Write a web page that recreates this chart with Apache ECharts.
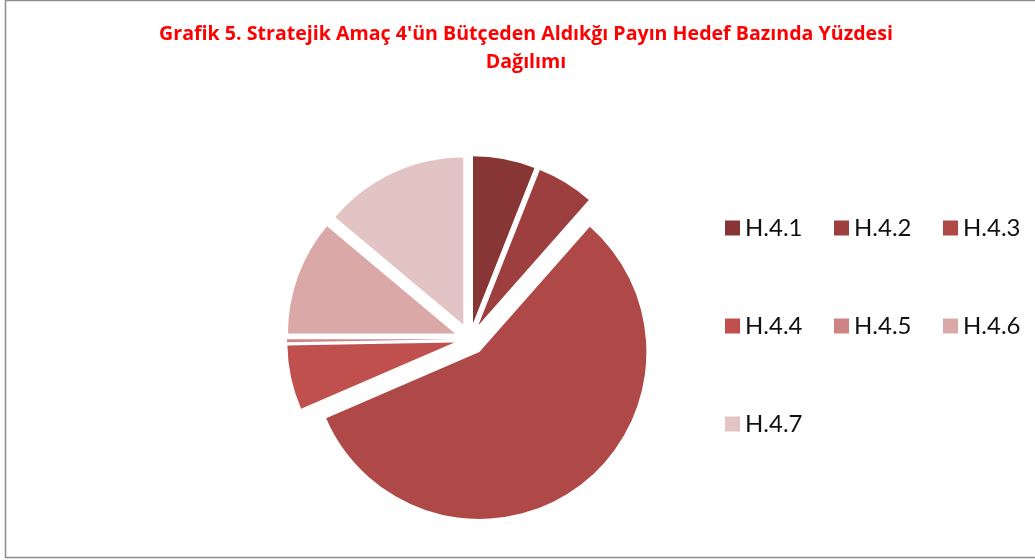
<!DOCTYPE html>
<html>
<head>
<meta charset="utf-8">
<script src="https://cdn.jsdelivr.net/npm/echarts@6/dist/echarts.min.js"></script>
<style>
  html, body { margin: 0; padding: 0; background: #fff; }
  #chart { width: 1035px; height: 560px; }
</style>
</head>
<body>
<div id="chart"></div>
<script>
// Grafik 5 - hedef bazinda pay (yuzde)
const targets = ['H.4.1', 'H.4.2', 'H.4.3', 'H.4.4', 'H.4.5', 'H.4.6', 'H.4.7'];
const shares = [6.0, 5.5, 57.0, 6.2, 0.3, 11.1, 13.9];
const sliceColors = ['#873535', '#9c3f3e', '#af4947', '#c0504d', '#ce8483', '#daa8a7', '#e3c4c4'];

// legend kolonlari (Excel gorunumu: 3 sutun)
const legendCols = [
    ['H.4.1', 'H.4.4', 'H.4.7'],
    ['H.4.2', 'H.4.5'],
    ['H.4.3', 'H.4.6']
];
const legendLeft = [725, 834, 943];

const titleText = "Grafik 5. Stratejik Amaç 4'ün Bütçeden Aldıkğı Payın Hedef Bazında Yüzdesi\nDağılımı";
const fontFam = 'Lato, "Open Sans", sans-serif';

const chart = echarts.init(document.getElementById('chart'));

const pieData = targets.map((name, i) => ({
    name,
    value: shares[i],
    selected: true,
    itemStyle: { color: sliceColors[i] }
}));

const legends = legendCols.map((col, i) => ({
    orient: 'vertical',
    left: legendLeft[i],
    top: 216,
    padding: 0,
    itemGap: 74,
    itemWidth: 15,
    itemHeight: 15,
    icon: 'rect',
    selectedMode: false,
    data: col,
    textStyle: {
        fontFamily: fontFam,
        fontSize: 24,
        lineHeight: 24,
        color: '#111'
    }
}));

chart.setOption({
    animation: false,
    legend: legends,
    graphic: [{
        type: 'rect',
        silent: true,
        shape: { x: 5.5, y: 0.5, width: 1040, height: 557 },
        style: { fill: 'none', stroke: '#8c8c8c', lineWidth: 1.5 }
    }, {
        // baslik (iki satir, ortali)
        type: 'text',
        silent: true,
        x: 526,
        y: 20,
        style: {
            text: titleText,
            align: 'center',
            verticalAlign: 'top',
            fill: '#ff0000',
            fontFamily: '"Open Sans", sans-serif',
            fontWeight: 'bold',
            fontSize: 19.6,
            lineHeight: 28
        }
    }],
    series: [{
        type: 'pie',
        center: [470, 339],
        radius: 167,
        startAngle: 90,
        clockwise: true,
        selectedMode: 'multiple',
        selectedOffset: 16,
        avoidLabelOverlap: false,
        label: { show: false },
        labelLine: { show: false },
        emphasis: { disabled: true },
        itemStyle: { borderWidth: 0 },
        data: pieData
    }]
});
</script>
</body>
</html>
